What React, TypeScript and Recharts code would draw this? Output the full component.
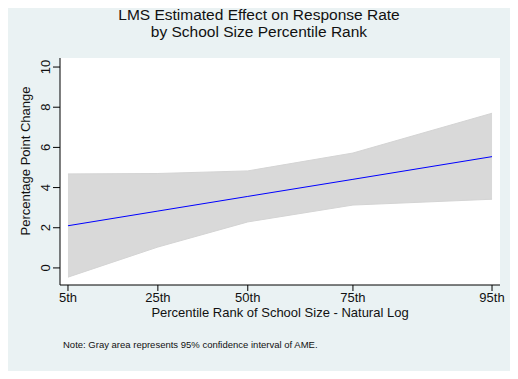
import React from 'react';
import { ComposedChart, Area, Line, XAxis, YAxis, CartesianGrid } from 'recharts';

// percentile points on the x axis (natural log of school size)
const rankLabels = ['5th', '25th', '50th', '75th', '95th'];
const logSize = [5.3, 5.83, 6.36, 6.98, 7.8];

// average marginal effect and its 95% CI
const effect = [2.1, 2.83, 3.56, 4.41, 5.54];
const ciLow = [-0.46, 1.04, 2.29, 3.13, 3.42];
const ciHigh = [4.68, 4.7, 4.83, 5.72, 7.7];

const yTicks = [0, 2, 4, 6, 8, 10];

const data = logSize.map((x, i) => ({
    x,
    ame: effect[i],
    band: [ciLow[i], ciHigh[i]],
}));

const FONT = '"Liberation Sans", Arial, sans-serif';
const INK = '#111';

const YTick = (props: any) => {
    const { x, y, payload } = props;
    const cx = x - 5;
    return (
        <text
            x={cx}
            y={y}
            transform={`rotate(-90, ${cx}, ${y})`}
            textAnchor="middle"
            dominantBaseline="central"
            fontSize={13}
            fontFamily={FONT}
            fill={INK}
        >
            {payload.value}
        </text>
    );
};

const xLabel = (v: number) => {
    const i = logSize.indexOf(v);
    return i >= 0 ? rankLabels[i] : '';
};

export default function App() {
    return (
        <div style={{ position: 'relative', width: 518, height: 379, margin: -8, background: '#fff', fontFamily: FONT, color: INK }}>
            <div style={{ position: 'absolute', left: 4, top: 4, width: 509, height: 369, background: '#EAF2F3' }} />
            <div style={{ position: 'absolute', left: 0, width: 518, top: 7, textAlign: 'center', fontSize: 15.5, lineHeight: '16px' }}>
                LMS Estimated Effect on Response Rate
            </div>
            <div style={{ position: 'absolute', left: 0, width: 518, top: 24, textAlign: 'center', fontSize: 15.5, lineHeight: '16px' }}>
                by School Size Percentile Rank
            </div>
            <div
                style={{
                    position: 'absolute', left: 25, top: 161, fontSize: 13, whiteSpace: 'nowrap',
                    transform: 'translate(-50%, -50%) rotate(-90deg)',
                }}
            >
                Percentage Point Change
            </div>
            <div style={{ position: 'absolute', left: 60, width: 440, top: 307, textAlign: 'center', fontSize: 13, lineHeight: '12px' }}>
                Percentile Rank of School Size - Natural Log
            </div>
            <div style={{ position: 'absolute', left: 63, top: 339, fontSize: 9.5, lineHeight: '12px' }}>
                Note: Gray area represents 95% confidence interval of AME.
            </div>
            <div style={{ position: 'absolute', left: 0, top: 0 }}>
                <ComposedChart width={518} height={379} data={data} margin={{ top: 58, right: 18, left: 20, bottom: 64 }}>
                    <CartesianGrid fill="#fff" horizontal={false} vertical={false} stroke="none" />
                    <XAxis
                        dataKey="x"
                        type="number"
                        domain={[5.253, 7.847]}
                        ticks={logSize}
                        tickFormatter={xLabel}
                        allowDataOverflow
                        height={30}
                        tickSize={6}
                        tickMargin={2}
                        axisLine={{ stroke: '#000', strokeWidth: 1 }}
                        tickLine={{ stroke: '#000' }}
                        tick={{ fontSize: 13, fill: INK, fontFamily: FONT }}
                    />
                    <YAxis
                        type="number"
                        domain={[-0.85, 10.45]}
                        ticks={yTicks}
                        allowDataOverflow
                        width={40}
                        tickSize={7}
                        tickMargin={2}
                        axisLine={{ stroke: '#000', strokeWidth: 1 }}
                        tickLine={{ stroke: '#000' }}
                        tick={<YTick />}
                    />
                    <Area
                        type="linear"
                        dataKey="band"
                        fill="#D9D9D9"
                        fillOpacity={1}
                        stroke="#D4D4D4"
                        strokeWidth={1}
                        isAnimationActive={false}
                    />
                    <Line
                        type="linear"
                        dataKey="ame"
                        stroke="#0000FF"
                        strokeWidth={1}
                        dot={false}
                        isAnimationActive={false}
                    />
                </ComposedChart>
            </div>
        </div>
    );
}
